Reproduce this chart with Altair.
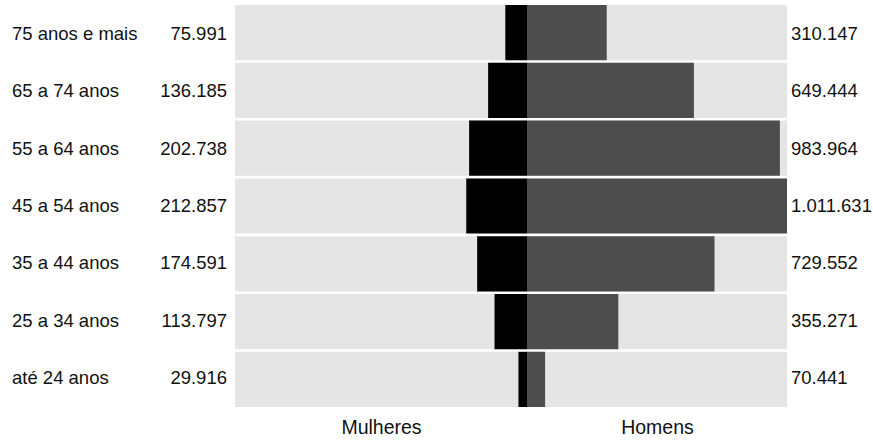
import altair as alt
import pandas as pd

categories = ["75 anos e mais", "65 a 74 anos", "55 a 64 anos", "45 a 54 anos",
              "35 a 44 anos", "25 a 34 anos", "até 24 anos"]
women = [75991, 136185, 202738, 212857, 174591, 113797, 29916]
men = [310147, 649444, 983964, 1011631, 729552, 355271, 70441]

women_max = 1023000
men_max = 1011631

df = pd.DataFrame({"cat": categories, "women": women, "men": men})
df["women_label"] = [f"{v:,}".replace(",", ".") for v in women]
df["men_label"] = [f"{v:,}".replace(",", ".") for v in men]
df["wmax"] = women_max
df["mmax"] = men_max

FONT = "Liberation Sans"
TXT = "#111111"
H = 402
FS = 18.5

Y = alt.Y("cat:N", sort=categories, axis=None,
          scale=alt.Scale(paddingInner=0.045, paddingOuter=0))

base = alt.Chart(df)

# Left labels
left_labels = alt.layer(
    base.mark_text(align="left", baseline="middle", font=FONT, fontSize=FS, color=TXT)
        .encode(y=Y, x=alt.value(7), text="cat:N"),
    base.mark_text(align="right", baseline="middle", font=FONT, fontSize=FS, color=TXT)
        .encode(y=Y, x=alt.value(222), text="women_label:N"),
).properties(width=230, height=H)

def ax(title):
    return alt.Axis(title=title, labels=False, ticks=False, domain=False, grid=False,
                    titleFontSize=19.5, titleFont=FONT, titleColor=TXT,
                    titleFontWeight="normal", titlePadding=11)

w_scale = alt.Scale(domain=[0, women_max], reverse=True, nice=False, zero=True)
m_scale = alt.Scale(domain=[0, men_max], nice=False, zero=True)

women_panel = alt.layer(
    base.mark_rect(color="#e5e5e5").encode(
        x=alt.X("wmax:Q", scale=w_scale, axis=ax("Mulheres")), y=Y),
    base.mark_bar(color="#000000").encode(
        x=alt.X("women:Q", scale=w_scale, axis=ax("Mulheres")), y=Y),
).properties(width=292, height=H)

men_panel = alt.layer(
    base.mark_rect(color="#e5e5e5").encode(
        x=alt.X("mmax:Q", scale=m_scale, axis=ax("Homens")), y=Y),
    base.mark_bar(color="#4d4d4d").encode(
        x=alt.X("men:Q", scale=m_scale, axis=ax("Homens")), y=Y),
).properties(width=260, height=H)

right_labels = base.mark_text(align="left", baseline="middle", font=FONT,
                              fontSize=FS, color=TXT).encode(
    y=Y, x=alt.value(4), text="men_label:N"
).properties(width=80, height=H)

chart = alt.hconcat(left_labels, women_panel, men_panel, right_labels, spacing=0).properties(
    padding={"left": 5, "top": 5, "right": 0, "bottom": 0},
    background="white",
).configure_view(stroke=None)

chart.save("out.html", embed_options={"renderer": "svg", "actions": False})
